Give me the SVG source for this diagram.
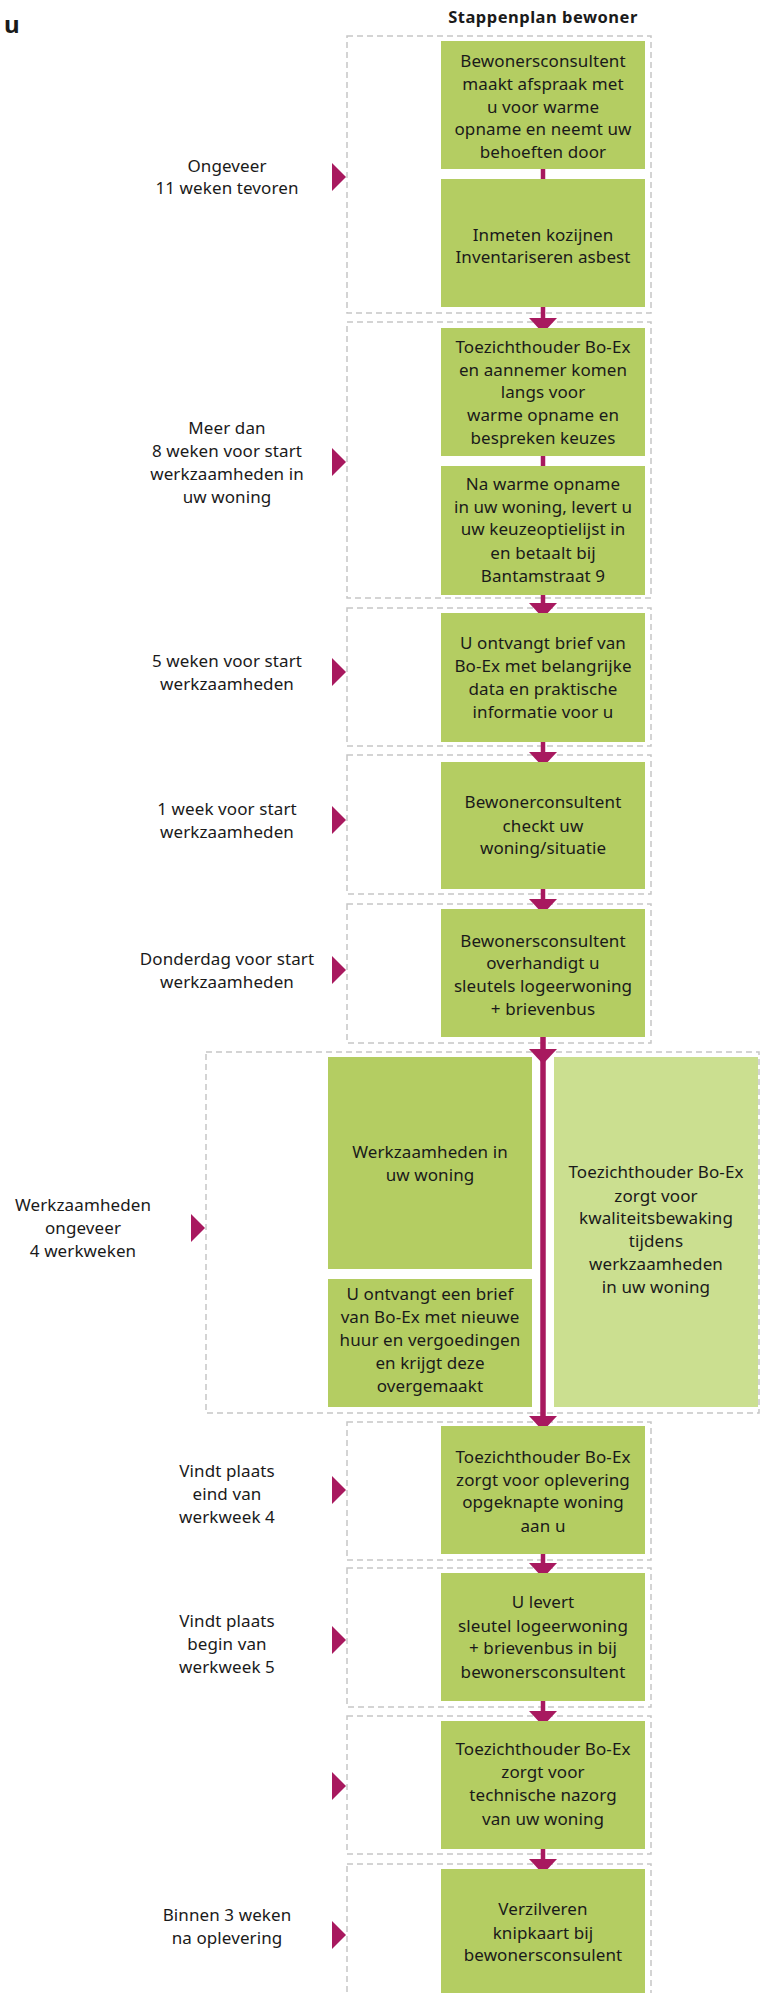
<svg xmlns="http://www.w3.org/2000/svg" width="761" height="1993" viewBox="0 0 761 1993">
<style>
text{font-family:"Noto Sans","Open Sans","Liberation Sans",sans-serif;font-size:17px;fill:#1a1a1a;text-anchor:middle;letter-spacing:0.1px}
.title{font-weight:bold;font-size:16.5px;letter-spacing:0.5px}
.u{font-weight:bold;font-size:24px;text-anchor:start}
.sec{fill:none;stroke:#c6c6c6;stroke-width:1.5;stroke-dasharray:6 4}
.box{fill:#b4cd62}
.light{fill:#cbdf90}
.tri{fill:#a8195f}
.ln{stroke:#a8195f;stroke-width:4.5;fill:none}
.head{fill:#a8195f}
</style>
<rect width="761" height="1993" fill="#ffffff"/>
<text class="u" x="4" y="33">u</text>
<text class="title" x="543" y="23">Stappenplan bewoner</text>

<g id="sections">
<rect class="sec" x="347" y="36" width="304" height="277"/>
<rect class="sec" x="347" y="322" width="304" height="276"/>
<rect class="sec" x="347" y="608" width="304" height="138"/>
<rect class="sec" x="347" y="755" width="304" height="139"/>
<rect class="sec" x="347" y="904" width="304" height="139"/>
<rect class="sec" x="206" y="1052" width="553" height="361"/>
<rect class="sec" x="347" y="1422" width="304" height="138"/>
<rect class="sec" x="347" y="1568" width="304" height="139"/>
<rect class="sec" x="347" y="1716" width="304" height="138"/>
<rect class="sec" x="347" y="1864" width="304" height="160"/>
</g>

<g id="markers">
<polygon class="tri" points="332,163 346,177 332,191"/>
<polygon class="tri" points="332,448 346,462 332,476"/>
<polygon class="tri" points="332,658 346,672 332,686"/>
<polygon class="tri" points="332,806 346,820 332,834"/>
<polygon class="tri" points="332,956 346,970 332,984"/>
<polygon class="tri" points="191,1214 205,1228 191,1242"/>
<polygon class="tri" points="332,1476 346,1490 332,1504"/>
<polygon class="tri" points="332,1626 346,1640 332,1654"/>
<polygon class="tri" points="332,1772 346,1786 332,1800"/>
<polygon class="tri" points="332,1921 346,1935 332,1949"/>
</g>

<g id="labels">
<text x="227" y="172">Ongeveer</text>
<text x="227" y="194">11 weken tevoren</text>
<text x="227" y="434">Meer dan</text>
<text x="227" y="457">8 weken voor start</text>
<text x="227" y="480">werkzaamheden in</text>
<text x="227" y="503">uw woning</text>
<text x="227" y="667">5 weken voor start</text>
<text x="227" y="690">werkzaamheden</text>
<text x="227" y="815">1 week voor start</text>
<text x="227" y="838">werkzaamheden</text>
<text x="227" y="965">Donderdag voor start</text>
<text x="227" y="988">werkzaamheden</text>
<text x="83" y="1211">Werkzaamheden</text>
<text x="83" y="1234">ongeveer</text>
<text x="83" y="1257">4 werkweken</text>
<text x="227" y="1477">Vindt plaats</text>
<text x="227" y="1500">eind van</text>
<text x="227" y="1523">werkweek 4</text>
<text x="227" y="1627">Vindt plaats</text>
<text x="227" y="1650">begin van</text>
<text x="227" y="1673">werkweek 5</text>
<text x="227" y="1921">Binnen 3 weken</text>
<text x="227" y="1944">na oplevering</text>
</g>

<g id="connectors">
<line class="ln" x1="543" y1="169" x2="543" y2="179"/>
<line class="ln" x1="543" y1="307" x2="543" y2="320"/>
<polygon class="head" points="529,318 557,318 543,333"/>
<line class="ln" x1="543" y1="456" x2="543" y2="466"/>
<line class="ln" x1="543" y1="595" x2="543" y2="605"/>
<polygon class="head" points="529,603 557,603 543,618"/>
<line class="ln" x1="543" y1="742" x2="543" y2="754"/>
<polygon class="head" points="529,752 557,752 543,767"/>
<line class="ln" x1="543" y1="889" x2="543" y2="901"/>
<polygon class="head" points="529,899 557,899 543,914"/>
<line x1="543" y1="1037" x2="543" y2="1420" stroke="#a8195f" stroke-width="5.5"/>
<polygon class="head" points="529,1049 557,1049 543,1064"/>
<polygon class="head" points="529,1416 557,1416 543,1431"/>
<line class="ln" x1="543" y1="1554" x2="543" y2="1565"/>
<polygon class="head" points="529,1563 557,1563 543,1578"/>
<line class="ln" x1="543" y1="1701" x2="543" y2="1713"/>
<polygon class="head" points="529,1711 557,1711 543,1726"/>
<line class="ln" x1="543" y1="1849" x2="543" y2="1861"/>
<polygon class="head" points="529,1859 557,1859 543,1874"/>
</g>

<g id="n1"><rect class="box" x="441" y="41" width="204" height="128"/>
<text x="543" y="67">Bewonersconsultent</text><text x="543" y="90">maakt afspraak met</text><text x="543" y="112.5">u voor warme</text><text x="543" y="135">opname en neemt uw</text><text x="543" y="158">behoeften door</text></g>
<g id="n2"><rect class="box" x="441" y="179" width="204" height="128"/>
<text x="543" y="241">Inmeten kozijnen</text><text x="543" y="263">Inventariseren asbest</text></g>
<g id="n3"><rect class="box" x="441" y="328" width="204" height="128"/>
<text x="543" y="353">Toezichthouder Bo-Ex</text><text x="543" y="376">en aannemer komen</text><text x="543" y="398">langs voor</text><text x="543" y="421">warme opname en</text><text x="543" y="444">bespreken keuzes</text></g>
<g id="n4"><rect class="box" x="441" y="466" width="204" height="129"/>
<text x="543" y="490">Na warme opname</text><text x="543" y="513">in uw woning, levert u</text><text x="543" y="535">uw keuzeoptielijst in</text><text x="543" y="559">en betaalt bij</text><text x="543" y="582">Bantamstraat 9</text></g>
<g id="n5"><rect class="box" x="441" y="613" width="204" height="129"/>
<text x="543" y="649">U ontvangt brief van</text><text x="543" y="672">Bo-Ex met belangrijke</text><text x="543" y="695">data en praktische</text><text x="543" y="718">informatie voor u</text></g>
<g id="n6"><rect class="box" x="441" y="762" width="204" height="127"/>
<text x="543" y="808">Bewonerconsultent</text><text x="543" y="832">checkt uw</text><text x="543" y="854">woning/situatie</text></g>
<g id="n7"><rect class="box" x="441" y="909" width="204" height="128"/>
<text x="543" y="947">Bewonersconsultent</text><text x="543" y="969">overhandigt u</text><text x="543" y="992">sleutels logeerwoning</text><text x="543" y="1015">+ brievenbus</text></g>
<g id="n8"><rect class="box" x="328" y="1057" width="204" height="212"/>
<text x="430" y="1158">Werkzaamheden in</text><text x="430" y="1181">uw woning</text></g>
<g id="n9"><rect class="box" x="328" y="1279" width="204" height="128"/>
<text x="430" y="1300">U ontvangt een brief</text><text x="430" y="1323">van Bo-Ex met nieuwe</text><text x="430" y="1346">huur en vergoedingen</text><text x="430" y="1369">en krijgt deze</text><text x="430" y="1392">overgemaakt</text></g>
<g id="n10"><rect class="light" x="554" y="1057" width="204" height="350"/>
<text x="656" y="1178">Toezichthouder Bo-Ex</text><text x="656" y="1202">zorgt voor</text><text x="656" y="1224">kwaliteitsbewaking</text><text x="656" y="1247">tijdens</text><text x="656" y="1270">werkzaamheden</text><text x="656" y="1293">in uw woning</text></g>
<g id="n11"><rect class="box" x="441" y="1426" width="204" height="128"/>
<text x="543" y="1463">Toezichthouder Bo-Ex</text><text x="543" y="1486">zorgt voor oplevering</text><text x="543" y="1508">opgeknapte woning</text><text x="543" y="1532">aan u</text></g>
<g id="n12"><rect class="box" x="441" y="1573" width="204" height="128"/>
<text x="543" y="1608">U levert</text><text x="543" y="1632">sleutel logeerwoning</text><text x="543" y="1654">+ brievenbus in bij</text><text x="543" y="1678">bewonersconsultent</text></g>
<g id="n13"><rect class="box" x="441" y="1721" width="204" height="128"/>
<text x="543" y="1755">Toezichthouder Bo-Ex</text><text x="543" y="1778">zorgt voor</text><text x="543" y="1801">technische nazorg</text><text x="543" y="1825">van uw woning</text></g>
<g id="n14"><rect class="box" x="441" y="1869" width="204" height="130"/>
<text x="543" y="1915">Verzilveren</text><text x="543" y="1939">knipkaart bij</text><text x="543" y="1961">bewonersconsulent</text></g>
</svg>
